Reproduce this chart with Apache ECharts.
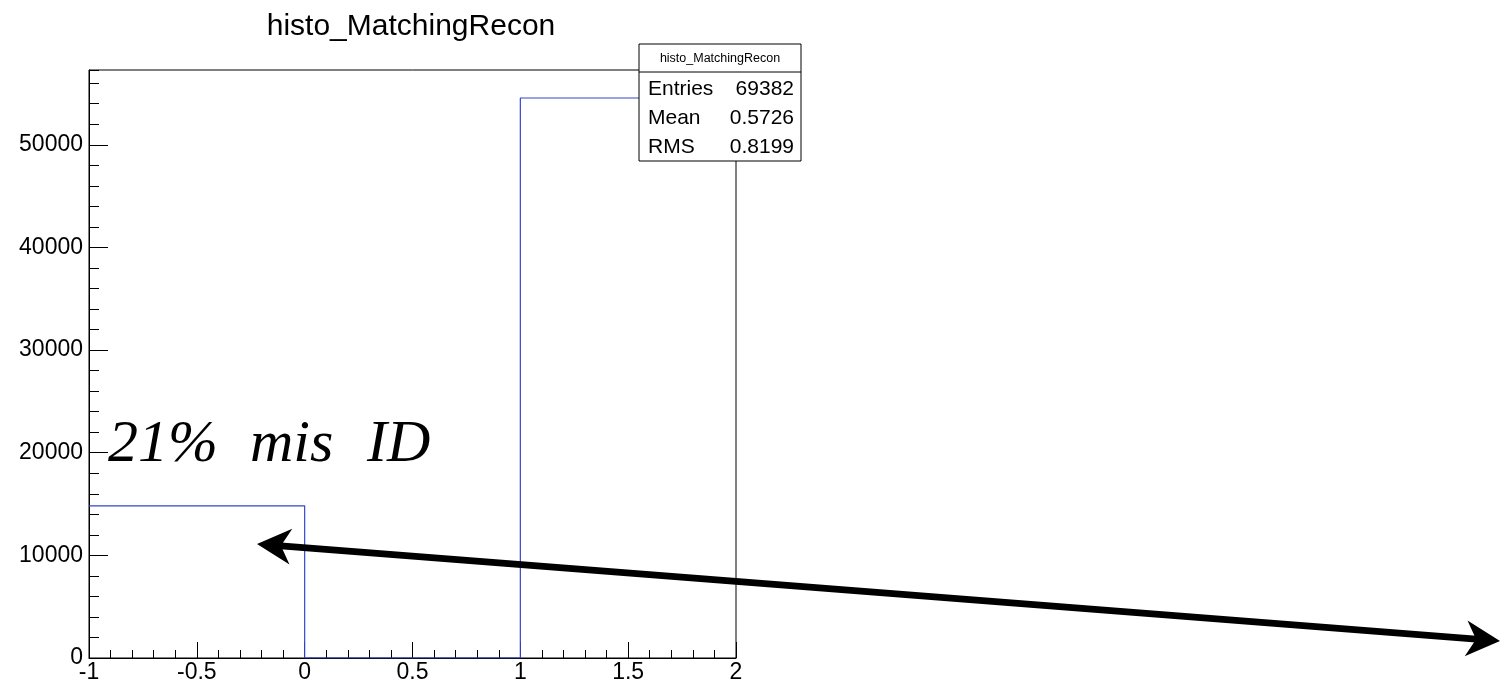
<!DOCTYPE html>
<html><head><meta charset="utf-8">
<script src="https://cdn.jsdelivr.net/npm/echarts@6/dist/echarts.min.js"></script>
<style>html,body{margin:0;padding:0;background:#fff}#c{width:1502px;height:686px}</style>
</head><body><div id="c"></div>
<script>
// ---- data ----
const histName = 'histo_MatchingRecon';
const binEdges = [-1, 0, 1, 2];
const binCounts = [14827, 0, 54555];
const yMaxValue = 57283;           // ROOT frame max (1.05 * peak)
const statsLabels = ['Entries', 'Mean', 'RMS'];
const statsValues = ['69382', '0.5726', '0.8199'];
const annotationWords = ['21%', 'mis', 'ID'];

// ---- build step outline from bins ----
const stepPoints = [];
for (let i = 0; i < binCounts.length; i++) {
  stepPoints.push([binEdges[i], binCounts[i]]);
  stepPoints.push([binEdges[i + 1], binCounts[i]]);
}

const FONT = '"Liberation Sans", Arial, Helvetica, sans-serif';
const SERIF = '"Liberation Serif", "DejaVu Serif", serif';
const chart = echarts.init(document.getElementById('c'), null, {renderer: 'canvas'});

// arrow geometry (annotation, pixel space)
function arrow(p0, p1) {
  const dx = p1[0] - p0[0], dy = p1[1] - p0[1];
  const len = Math.hypot(dx, dy);
  const ux = dx / len, uy = dy / len, nx = -uy, ny = ux;
  const L = 34, W = 18, N = 24;
  function head(t, s) {
    const bx = t[0] - s * L * ux, by = t[1] - s * L * uy;
    return [t, [bx + W * nx, by + W * ny], [t[0] - s * N * ux, t[1] - s * N * uy], [bx - W * nx, by - W * ny]];
  }
  const h1 = head(p1, 1), h0 = head(p0, -1);
  return [
    {type: 'line', shape: {x1: h0[2][0], y1: h0[2][1], x2: h1[2][0], y2: h1[2][1]},
     style: {stroke: '#000', lineWidth: 7}, z: 100},
    {type: 'polygon', shape: {points: h0}, style: {fill: '#000'}, z: 100},
    {type: 'polygon', shape: {points: h1}, style: {fill: '#000'}, z: 100}
  ];
}

const statsBox = {x: 639, y: 44, w: 162, h: 117};
const graphics = [
  {type: 'text', x: 411, y: 27, style: {text: histName, font: '30px ' + FONT, fill: '#000', textAlign: 'center', textVerticalAlign: 'middle'}},
  {type: 'rect', shape: {x: statsBox.x, y: statsBox.y, width: statsBox.w, height: statsBox.h}, style: {fill: '#fff', stroke: '#000', lineWidth: 1}, z: 50},
  {type: 'line', shape: {x1: statsBox.x, y1: 72, x2: statsBox.x + statsBox.w, y2: 72}, style: {stroke: '#000', lineWidth: 1}, z: 51},
  {type: 'text', x: statsBox.x + statsBox.w / 2, y: 59, style: {text: histName, font: '12.5px ' + FONT, fill: '#000', textAlign: 'center', textVerticalAlign: 'middle'}, z: 52}
];
const wordX = [108, 250, 367];
annotationWords.forEach((w, i) => {
  graphics.push({type: 'text', x: wordX[i], y: 475, style: {text: w, font: 'italic 60px ' + SERIF, fill: '#000', textAlign: 'left', textVerticalAlign: 'bottom'}, z: 60});
});
statsLabels.forEach((lab, i) => {
  const yy = 89 + i * 29;
  graphics.push({type: 'text', x: statsBox.x + 9, y: yy, style: {text: lab, font: '21px ' + FONT, fill: '#000', textAlign: 'left', textVerticalAlign: 'middle'}, z: 52});
  graphics.push({type: 'text', x: statsBox.x + statsBox.w - 7, y: yy, style: {text: statsValues[i], font: '21px ' + FONT, fill: '#000', textAlign: 'right', textVerticalAlign: 'middle'}, z: 52});
});
arrow([257, 544], [1500, 641]).forEach(g => graphics.push(g));

const plain = v => String(v);

chart.setOption({
  animation: false,
  backgroundColor: '#fff',
  grid: {left: 89, top: 70, width: 647, height: 588, show: true, borderColor: '#000', borderWidth: 1, backgroundColor: 'transparent'},
  xAxis: {
    type: 'value', min: binEdges[0], max: binEdges[binEdges.length - 1], interval: 0.5,
    axisLine: {show: true, onZero: false, lineStyle: {color: '#000', width: 1}},
    axisTick: {show: true, inside: true, length: 16, lineStyle: {color: '#000'}},
    minorTick: {show: true, splitNumber: 5, length: 8, lineStyle: {color: '#000'}},
    axisLabel: {show: true, color: '#000', fontSize: 23, fontFamily: FONT, margin: 3, formatter: plain, showMinLabel: true, showMaxLabel: true},
    splitLine: {show: false}
  },
  yAxis: [
    {
      type: 'value', min: 0, max: yMaxValue, interval: 10000, position: 'left',
      axisLine: {show: true, onZero: false, lineStyle: {color: '#000', width: 1}},
      axisTick: {show: true, inside: true, length: 19, lineStyle: {color: '#000'}},
      axisLabel: {show: true, color: '#000', fontSize: 23, fontFamily: FONT, margin: 6, formatter: plain, showMaxLabel: false},
      splitLine: {show: false}
    },
    {
      type: 'value', min: 0, max: yMaxValue, interval: 2000, position: 'left', offset: 0,
      axisLine: {show: false, onZero: false},
      axisTick: {show: true, inside: true, length: 10, lineStyle: {color: '#000'}},
      axisLabel: {show: false},
      splitLine: {show: false}
    }
  ],
  series: [{
    type: 'line', name: histName, data: stepPoints, yAxisIndex: 0,
    showSymbol: false, symbol: 'none', clip: true,
    lineStyle: {color: '#3246cc', width: 1.2}, z: 5
  }],
  graphic: graphics
});
</script></body></html>
